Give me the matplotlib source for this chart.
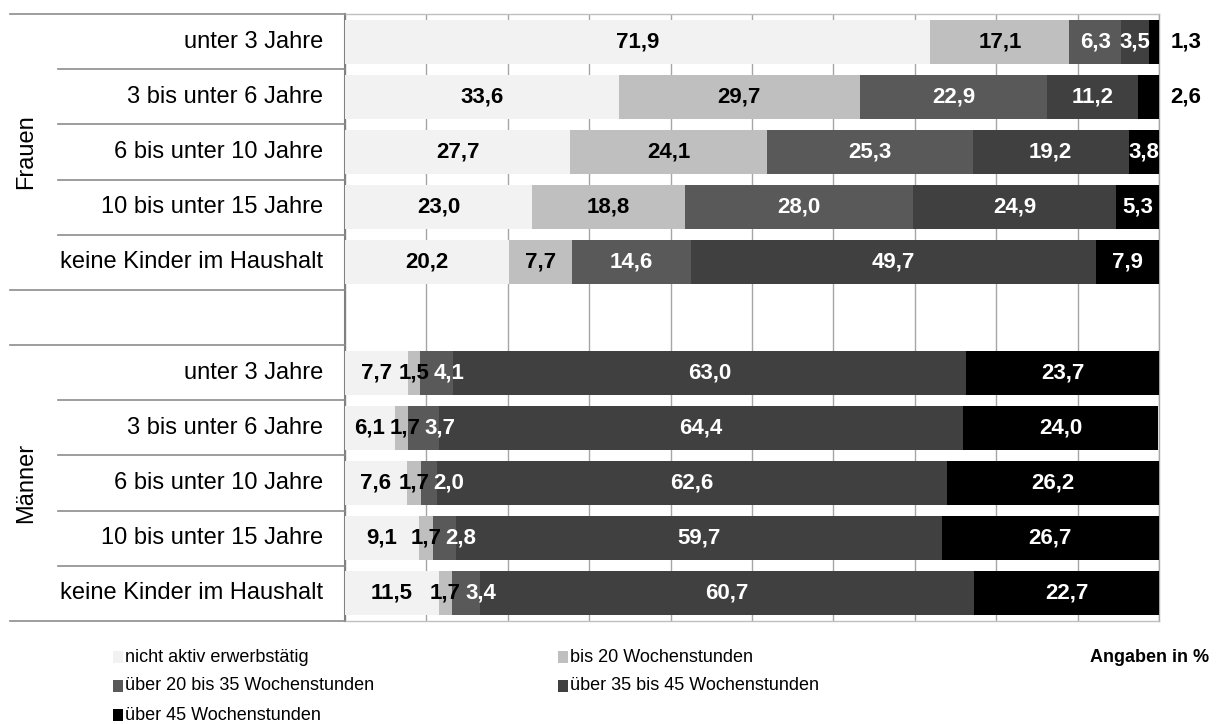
import matplotlib
matplotlib.use("Agg")
import matplotlib.pyplot as plt
from matplotlib.patches import Rectangle
from matplotlib import font_manager

# ---------------- data ----------------
categories = ["unter 3 Jahre", "3 bis unter 6 Jahre", "6 bis unter 10 Jahre",
              "10 bis unter 15 Jahre", "keine Kinder im Haushalt"]
groups = ["Frauen", "Männer"]
series_names = ["nicht aktiv erwerbstätig", "bis 20 Wochenstunden",
                "über 20 bis 35 Wochenstunden", "über 35 bis 45 Wochenstunden",
                "über 45 Wochenstunden"]

nicht_aktiv_f = [71.9, 33.6, 27.7, 23.0, 20.2]
bis20_f = [17.1, 29.7, 24.1, 18.8, 7.7]
b20_35_f = [6.3, 22.9, 25.3, 28.0, 14.6]
b35_45_f = [3.5, 11.2, 19.2, 24.9, 49.7]
ueber45_f = [1.3, 2.6, 3.8, 5.3, 7.9]

nicht_aktiv_m = [7.7, 6.1, 7.6, 9.1, 11.5]
bis20_m = [1.5, 1.7, 1.7, 1.7, 1.7]
b20_35_m = [4.1, 3.7, 2.0, 2.8, 3.4]
b35_45_m = [63.0, 64.4, 62.6, 59.7, 60.7]
ueber45_m = [23.7, 24.0, 26.2, 26.7, 22.7]

# ---------------- styles ----------------
colors = ["#F2F2F2", "#BFBFBF", "#595959", "#404040", "#000000"]
text_colors = ["black", "black", "white", "white", "white"]

avail = {f.name for f in font_manager.fontManager.ttflist}
main_font = "Liberation Sans" if "Liberation Sans" in avail else "DejaVu Sans"
narrow_font = "Liberation Sans Narrow" if "Liberation Sans Narrow" in avail else main_font
plt.rcParams["font.family"] = [main_font, "DejaVu Sans"]

W, H, DPI = 1216, 724, 100
fig = plt.figure(figsize=(W / DPI, H / DPI), dpi=DPI)

ax_l, ax_r, ax_t, ax_b = 345, 1159, 14, 621
ax = fig.add_axes([ax_l / W, 1 - ax_b / H, (ax_r - ax_l) / W, (ax_b - ax_t) / H])

series_f = [nicht_aktiv_f, bis20_f, b20_35_f, b35_45_f, ueber45_f]
series_m = [nicht_aktiv_m, bis20_m, b20_35_m, b35_45_m, ueber45_m]

n = len(categories)
rows_f = list(range(n))
rows_m = list(range(n + 1, 2 * n + 1))
nrows = 2 * n + 1

bar_h = 0.8
label_fs = 16
cat_fs = 17
px_per_unit = (ax_r - ax_l) / 100.0

def text_width_units(s, fs):
    em = fs * DPI / 72.0
    w = 0
    for ch in s:
        w += 0.278 if ch in ",." else 0.556
    return w * em / px_per_unit

for rows, series in ((rows_f, series_f), (rows_m, series_m)):
    lefts = [0.0] * n
    prev_right = {r: -1e9 for r in rows}
    for si, vals in enumerate(series):
        ax.barh(rows, vals, left=lefts, height=bar_h, color=colors[si],
                edgecolor="none", zorder=3)
        for i, r in enumerate(rows):
            v = vals[i]
            s = f"{v:.1f}".replace(".", ",")
            tw = text_width_units(s, label_fs)
            if si == len(series) - 1 and v < 3:
                ax.text(100 + 1.4, r, s, ha="left", va="center", fontsize=label_fs,
                        fontweight="bold", color="black", zorder=5, clip_on=False)
                continue
            c = lefts[i] + v / 2
            gap = 4 / px_per_unit
            if c - tw / 2 < prev_right[r] + gap:
                c = prev_right[r] + gap + tw / 2
            prev_right[r] = c + tw / 2
            ax.text(c, r, s, ha="center", va="center", fontsize=label_fs,
                    fontweight="bold", color=text_colors[si], zorder=5)
        lefts = [lefts[i] + vals[i] for i in range(n)]

ax.set_xlim(0, 100)
ax.set_ylim(nrows - 0.5, -0.5)
ax.set_xticks(range(0, 101, 10))
ax.set_xticklabels([])
ax.set_yticks([])
ax.tick_params(axis="x", length=0)
ax.grid(axis="x", color="#A6A6A6", linewidth=1.0, zorder=0)
ax.set_axisbelow(True)
for side in ("top", "right", "bottom"):
    ax.spines[side].set_color("#BFBFBF")
    ax.spines[side].set_linewidth(1.0)
ax.spines["right"].set_color("#A6A6A6")
ax.spines["left"].set_color("#808080")
ax.spines["left"].set_linewidth(1.5)

# category labels and separators
ytr = ax.get_yaxis_transform()
x_full = (10 - ax_l) / (ax_r - ax_l)
x_part = (58 - ax_l) / (ax_r - ax_l)
for rows in (rows_f, rows_m):
    for i, r in enumerate(rows):
        ax.text((323 - ax_l) / (ax_r - ax_l), r, categories[i], transform=ytr,
                ha="right", va="center", fontsize=cat_fs, color="black", clip_on=False)
for b in range(nrows + 1):
    yb = b - 0.5
    full = b in (0, n, n + 1, nrows)
    x0 = x_full if full else x_part
    ax.plot([x0, 0], [yb, yb], transform=ytr, color="#8C8C8C", linewidth=1.2,
            clip_on=False, zorder=6)

for g, rows in zip(groups, (rows_f, rows_m)):
    ymid = (rows[0] + rows[-1]) / 2
    ax.text((26 - ax_l) / (ax_r - ax_l), ymid, g, transform=ytr, rotation=90,
            ha="center", va="center", fontsize=cat_fs, clip_on=False)

# legend (manual)
leg_items = [(0, 118, 657), (1, 563, 657), (2, 118, 686), (3, 563, 686), (4, 118, 715)]
sq = 10
for si, x, y in leg_items:
    fig.add_artist(Rectangle(((x - sq / 2) / W, 1 - (y + sq / 2 + 1) / H), sq / W, (sq + 2) / H,
                             transform=fig.transFigure, facecolor=colors[si],
                             edgecolor="none"))
    fig.text((x + sq / 2 + 2) / W, 1 - y / H, series_names[si], ha="left", va="center",
             fontsize=13, family=[narrow_font, "DejaVu Sans"])

fig.text(1209 / W, 1 - 657 / H, "Angaben in %", ha="right", va="center",
         fontsize=13, fontweight="bold")

fig.savefig("out.png", dpi=DPI)
